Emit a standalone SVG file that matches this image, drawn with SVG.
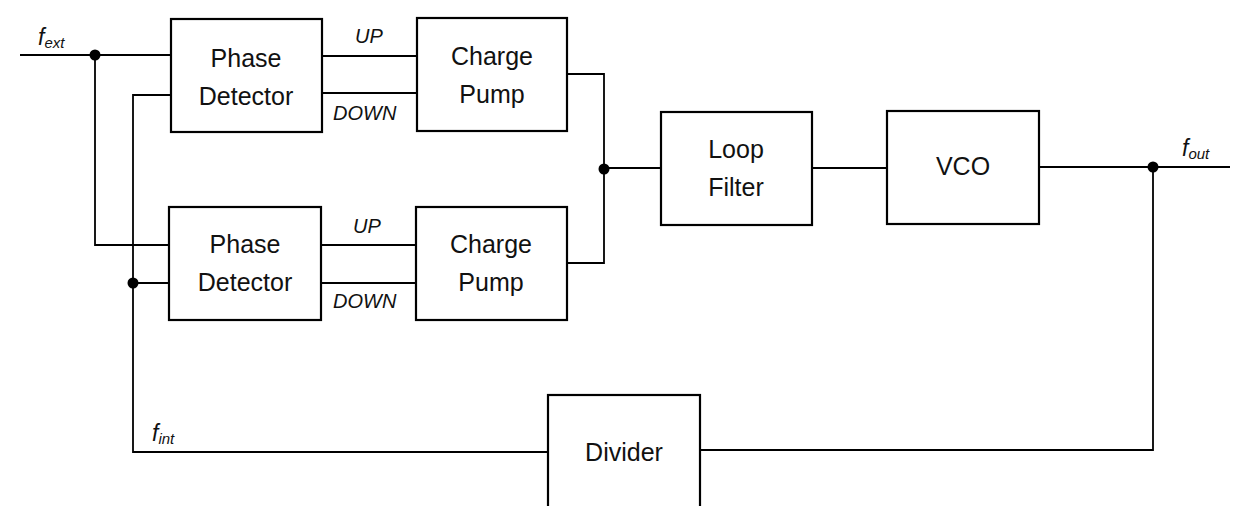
<svg xmlns="http://www.w3.org/2000/svg" width="1240" height="506" viewBox="0 0 1240 506">
<style>
.box{fill:#fff;stroke:#000;stroke-width:2.2}
.w{fill:none;stroke:#000;stroke-width:1.8}
.t{font-family:"Liberation Sans",Arial,sans-serif;font-size:25px;fill:#111;text-anchor:middle}
.s{font-family:"Liberation Sans",Arial,sans-serif;font-style:italic;font-size:20px;fill:#111}
.f{font-family:"Liberation Sans",Arial,sans-serif;font-style:italic;font-size:23px;fill:#111}
.sub{font-size:15px}
</style>
<rect width="1240" height="506" fill="#fff"/>
<g id="connectors">
<path class="w" d="M20 55H171"/>
<path class="w" d="M95 55V245H169"/>
<path class="w" d="M171 95H133V452H548"/>
<path class="w" d="M133 283H169"/>
<path class="w" d="M322 56H417M322 93H417"/>
<path class="w" d="M321 245H416M321 283H416"/>
<path class="w" d="M567 74H604V263H567"/>
<path class="w" d="M604 168H661"/>
<path class="w" d="M812 168H887"/>
<path class="w" d="M1039 167H1230"/>
<path class="w" d="M1153 167V450H700"/>
<circle cx="95" cy="55" r="5.5"/>
<circle cx="133" cy="283" r="5.5"/>
<circle cx="604" cy="169" r="5.5"/>
<circle cx="1153" cy="167" r="5.5"/>
<text class="s" x="355" y="43">UP</text>
<text class="s" x="333" y="120">DOWN</text>
<text class="s" x="353" y="233">UP</text>
<text class="s" x="333" y="308">DOWN</text>
<text class="f" x="38" y="45">f<tspan class="sub" dy="3">ext</tspan></text>
<text class="f" x="1182" y="156">f<tspan class="sub" dy="3">out</tspan></text>
<text class="f" x="152" y="441">f<tspan class="sub" dy="3">int</tspan></text>
</g>
<g id="pd1"><rect class="box" x="171" y="19" width="151" height="113"/><text class="t" x="246" y="67">Phase</text><text class="t" x="246" y="105">Detector</text></g>
<g id="cp1"><rect class="box" x="417" y="18" width="150" height="113"/><text class="t" x="492" y="65">Charge</text><text class="t" x="492" y="103">Pump</text></g>
<g id="pd2"><rect class="box" x="169" y="207" width="152" height="113"/><text class="t" x="245" y="253">Phase</text><text class="t" x="245" y="291">Detector</text></g>
<g id="cp2"><rect class="box" x="416" y="207" width="151" height="113"/><text class="t" x="491" y="253">Charge</text><text class="t" x="491" y="291">Pump</text></g>
<g id="loopfilter"><rect class="box" x="661" y="112" width="151" height="113"/><text class="t" x="736" y="158">Loop</text><text class="t" x="736" y="196">Filter</text></g>
<g id="vco"><rect class="box" x="887" y="111" width="152" height="113"/><text class="t" x="963" y="175">VCO</text></g>
<g id="divider"><rect class="box" x="548" y="395" width="152" height="130"/><text class="t" x="624" y="461">Divider</text></g>
</svg>
